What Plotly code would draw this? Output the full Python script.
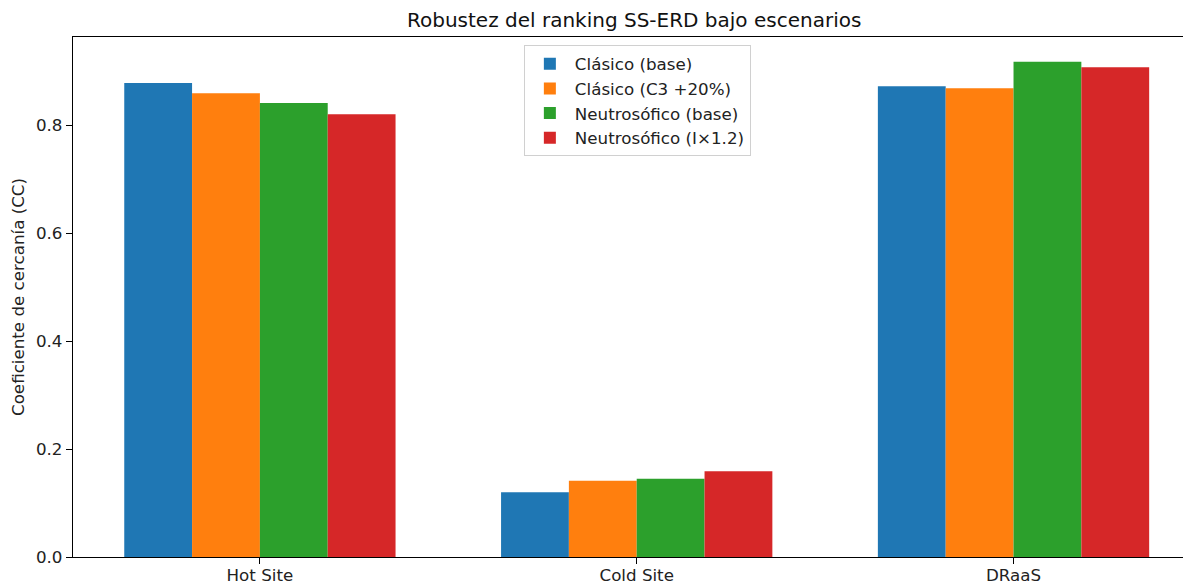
import plotly.graph_objects as go

categories = ["Hot Site", "Cold Site", "DRaaS"]
series_names = ["Clásico (base)", "Clásico (C3 +20%)", "Neutrosófico (base)", "Neutrosófico (I×1.2)"]
clasico_base = [0.878, 0.120, 0.872]
clasico_c3 = [0.859, 0.141, 0.868]
neutro_base = [0.841, 0.145, 0.917]
neutro_i12 = [0.820, 0.159, 0.907]
y_ticks = [0.0, 0.2, 0.4, 0.6, 0.8]

colors = ["#1f77b4", "#ff7f0e", "#2ca02c", "#d62728"]
series_values = [clasico_base, clasico_c3, neutro_base, neutro_i12]

FONT = "DejaVu Sans"
# the page body has an 8px margin, so the figure is shifted by 8px right and down
fig = go.Figure()
for name, vals, col in zip(series_names, series_values, colors):
    fig.add_trace(go.Bar(x=categories, y=vals, name=name, marker=dict(color=col, line=dict(width=0))))

fig.update_layout(
    width=1183, height=578,
    margin=dict(l=65, r=0, t=29, b=29),
    paper_bgcolor="white", plot_bgcolor="white",
    barmode="group", bargap=0.28, bargroupgap=0,
    font=dict(family=FONT, size=16.7, color="#222"),
    showlegend=True,
    legend=dict(
        x=0.5048, y=0.984, xanchor="center", yanchor="top",
        bgcolor="rgba(255,255,255,0.85)", bordercolor="#d0d0d0", borderwidth=1,
        font=dict(family=FONT, size=16.7, color="#222"),
        tracegroupgap=0, itemwidth=40,
    ),
    annotations=[
        dict(text="Robustez del ranking SS-ERD bajo escenarios", xref="paper", yref="paper",
             x=0.5018, y=1.0, yshift=17, xanchor="center", yanchor="middle", showarrow=False,
             font=dict(family=FONT, size=20, color="#111")),
        dict(text="Coeficiente de cercanía (CC)", xref="paper", yref="paper",
             x=-0.0492, y=0.5, xanchor="center", yanchor="middle", textangle=-90, showarrow=False,
             font=dict(family=FONT, size=16.7, color="#222")),
    ],
)
fig.update_xaxes(
    type="category", range=[-0.496, 2.471],
    showline=True, linecolor="black", linewidth=1.3, mirror=True,
    ticks="outside", ticklen=6, tickwidth=1.3, tickcolor="black",
    ticklabelstandoff=-3,
    showgrid=False, zeroline=False, automargin=False,
)
fig.update_yaxes(
    range=[0, 0.963], tickvals=y_ticks, tickformat=".1f",
    showline=True, linecolor="black", linewidth=1.3,
    ticks="outside", ticklen=6, tickwidth=1.3, tickcolor="black",
    showgrid=False, zeroline=False, automargin=False,
)

fig.write_html("out.html")
